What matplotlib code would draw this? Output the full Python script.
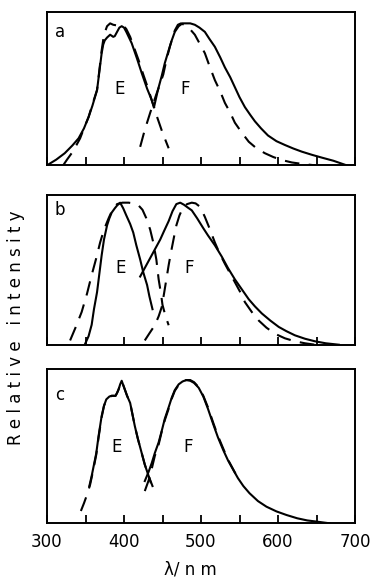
import matplotlib
matplotlib.use("Agg")
import matplotlib.pyplot as plt

# ---------------- data (wavelength nm, relative intensity) ----------------
# panel a
a_E_solid_x = [300, 312, 323, 333, 341, 348, 354, 359, 365, 368, 371, 373, 375, 378, 382, 386, 388, 391, 394, 397, 400, 403, 410, 417, 423, 430, 436, 439]
a_E_solid_y = [0.0, 0.04, 0.085, 0.14, 0.19, 0.26, 0.34, 0.42, 0.53, 0.66, 0.79, 0.85, 0.88, 0.90, 0.92, 0.905, 0.91, 0.94, 0.97, 0.98, 0.97, 0.94, 0.86, 0.75, 0.65, 0.54, 0.46, 0.41]
a_F_solid_x = [439, 444, 449, 453, 458, 462, 466, 471, 476, 481, 486, 492, 498, 505, 511, 518, 525, 531, 538, 544, 550, 557, 564, 570, 578, 587, 598, 609, 620, 631, 644, 657, 672, 689]
a_F_solid_y = [0.41, 0.53, 0.63, 0.72, 0.81, 0.88, 0.94, 0.98, 1.0, 1.0, 1.0, 0.99, 0.97, 0.94, 0.89, 0.835, 0.76, 0.69, 0.62, 0.55, 0.48, 0.41, 0.355, 0.31, 0.26, 0.21, 0.17, 0.143, 0.118, 0.096, 0.074, 0.054, 0.032, 0.0]
a_E_dash_x = [321, 326, 332, 337, 343, 348, 354, 359, 365, 368, 371, 374, 378, 382, 386, 391, 395, 399, 403, 408, 413, 419, 425, 432, 437, 443, 450, 458]
a_E_dash_y = [0.0, 0.04, 0.085, 0.13, 0.19, 0.26, 0.34, 0.43, 0.53, 0.67, 0.81, 0.92, 0.98, 1.0, 0.99, 0.985, 0.985, 0.985, 0.96, 0.905, 0.83, 0.74, 0.64, 0.53, 0.44, 0.34, 0.23, 0.12]
a_F_dash_x = [421, 427, 434, 442, 446, 451, 455, 460, 466, 470, 474, 478, 484, 492, 498, 505, 511, 518, 525, 531, 538, 544, 553, 562, 572, 583, 594, 605, 618, 631, 648]
a_F_dash_y = [0.13, 0.25, 0.37, 0.50, 0.56, 0.64, 0.74, 0.845, 0.95, 0.99, 1.0, 0.99, 0.97, 0.92, 0.86, 0.79, 0.70, 0.60, 0.52, 0.44, 0.37, 0.30, 0.23, 0.166, 0.12, 0.085, 0.058, 0.037, 0.02, 0.01, 0.0]

# panel b
b_E_solid_x = [349, 354, 358, 361, 365, 368, 371, 374, 378, 381, 384, 388, 391, 395, 399, 403, 408, 412, 416, 421, 425, 430, 433, 437]
b_E_solid_y = [0.0, 0.06, 0.14, 0.25, 0.37, 0.50, 0.63, 0.74, 0.84, 0.89, 0.93, 0.96, 0.98, 1.0, 0.96, 0.91, 0.85, 0.79, 0.70, 0.60, 0.51, 0.42, 0.34, 0.25]
b_E_dash_x = [330, 337, 345, 352, 358, 364, 369, 374, 380, 385, 391, 398, 406, 412, 419, 424, 429, 434, 438, 442, 445, 448, 450, 454, 458]
b_E_dash_y = [0.03, 0.12, 0.23, 0.36, 0.49, 0.61, 0.72, 0.81, 0.89, 0.95, 0.99, 1.0, 1.0, 0.995, 0.98, 0.95, 0.89, 0.81, 0.72, 0.60, 0.46, 0.36, 0.28, 0.20, 0.137]
b_F_solid_x = [421, 427, 434, 440, 447, 452, 458, 463, 468, 473, 478, 483, 488, 495, 503, 509, 518, 527, 535, 544, 553, 562, 570, 579, 590, 601, 611, 622, 635, 648, 662, 679]
b_F_solid_y = [0.48, 0.54, 0.61, 0.67, 0.74, 0.80, 0.87, 0.94, 0.99, 1.0, 0.985, 0.965, 0.946, 0.89, 0.82, 0.77, 0.70, 0.62, 0.54, 0.46, 0.39, 0.32, 0.27, 0.22, 0.17, 0.125, 0.095, 0.066, 0.042, 0.024, 0.01, 0.0]
b_F_dash_x = [427, 433, 440, 445, 449, 452, 455, 458, 461, 465, 468, 472, 477, 482, 488, 493, 499, 505, 511, 518, 524, 531, 538, 544, 551, 557, 566, 575, 585, 596, 609, 622, 635, 648]
b_F_dash_y = [0.03, 0.08, 0.137, 0.20, 0.265, 0.36, 0.46, 0.56, 0.65, 0.76, 0.84, 0.91, 0.97, 0.99, 1.0, 0.995, 0.97, 0.90, 0.82, 0.72, 0.645, 0.57, 0.50, 0.44, 0.37, 0.30, 0.23, 0.17, 0.12, 0.077, 0.045, 0.024, 0.01, 0.0]

# panel c
c_E_solid_x = [355, 358, 361, 364, 367, 371, 374, 377, 381, 384, 387, 389, 391, 393, 395, 397, 399, 401, 404, 408, 411, 414, 418, 423, 427, 432, 437]
c_E_solid_y = [0.26, 0.33, 0.41, 0.49, 0.61, 0.75, 0.82, 0.865, 0.885, 0.89, 0.89, 0.89, 0.91, 0.935, 0.97, 0.995, 0.965, 0.935, 0.89, 0.84, 0.76, 0.68, 0.59, 0.49, 0.41, 0.33, 0.26]
c_E_dash_x = [344, 348, 352, 356, 360, 364, 367, 371, 374, 377, 381, 384, 387, 389, 391, 393, 395, 397, 399, 401, 404, 408, 411, 414, 418, 423, 427, 432, 435]
c_E_dash_y = [0.086, 0.14, 0.20, 0.27, 0.37, 0.48, 0.60, 0.74, 0.82, 0.86, 0.88, 0.89, 0.89, 0.89, 0.91, 0.935, 0.97, 0.99, 0.965, 0.935, 0.89, 0.84, 0.76, 0.68, 0.59, 0.49, 0.41, 0.33, 0.28]
c_F_solid_x = [427, 432, 436, 440, 445, 449, 453, 458, 462, 466, 471, 476, 481, 486, 491, 497, 503, 509, 516, 522, 529, 535, 542, 548, 555, 563, 574, 585, 598, 611, 625, 638, 650, 667]
c_F_solid_y = [0.295, 0.36, 0.42, 0.49, 0.565, 0.645, 0.73, 0.81, 0.877, 0.93, 0.97, 0.99, 1.0, 0.995, 0.98, 0.946, 0.885, 0.80, 0.69, 0.60, 0.51, 0.44, 0.372, 0.315, 0.26, 0.21, 0.155, 0.116, 0.083, 0.058, 0.035, 0.02, 0.012, 0.0]
c_F_dash_x = [427, 432, 436, 440, 445, 449, 453, 458, 462, 466, 471, 476, 481, 486, 491, 497, 503, 509, 516, 522, 529, 535, 542, 548]
c_F_dash_y = [0.225, 0.30, 0.38, 0.47, 0.55, 0.64, 0.72, 0.80, 0.87, 0.925, 0.965, 0.99, 1.0, 1.0, 0.985, 0.95, 0.89, 0.81, 0.70, 0.61, 0.52, 0.445, 0.375, 0.315]

panel_letters = ["a", "b", "c"]
band_labels = ["E", "F"]
xticks = [300, 350, 400, 450, 500, 550, 600, 650, 700]
xtick_labels = ["300", "", "400", "", "500", "", "600", "", "700"]
ylabel_text = "R e l a t i v e   i n t e n s i t y"
xlabel_text = "λ/ n m"

# ---------------- figure ----------------
plt.rcParams['font.family'] = ['DejaVu Sans']
W, H = 377, 582
fig = plt.figure(figsize=(W / 100, H / 100), dpi=100)

def rect(top, bottom, left=47, right=355):
    return [left / W, 1 - bottom / H, (right - left) / W, (bottom - top) / H]

axes_rects = [rect(12, 165.3), rect(195, 344.7), rect(369.3, 523.3)]
ytops = [1.08, 1.054, 1.075]
letter_pos = [0.87, 0.90, 0.83]
label_pos = [((394.8, 0.54), (479, 0.54)), ((396, 0.54), (484, 0.54)), ((390.5, 0.53), (483.5, 0.53))]

series = [
    [(a_E_solid_x, a_E_solid_y, '-'), (a_F_solid_x, a_F_solid_y, '-'),
     (a_E_dash_x, a_E_dash_y, '--'), (a_F_dash_x, a_F_dash_y, '--')],
    [(b_E_solid_x, b_E_solid_y, '-'), (b_F_solid_x, b_F_solid_y, '-'),
     (b_E_dash_x, b_E_dash_y, '--'), (b_F_dash_x, b_F_dash_y, '--')],
    [(c_E_solid_x, c_E_solid_y, '-'), (c_F_solid_x, c_F_solid_y, '-'),
     (c_E_dash_x, c_E_dash_y, '--'), (c_F_dash_x, c_F_dash_y, '--')],
]

for i in range(3):
    ax = fig.add_axes(axes_rects[i])
    for xs, ys, ls in series[i]:
        if ls == '-':
            ax.plot(xs, ys, color='black', lw=1.5, solid_joinstyle='round')
        else:
            ax.plot(xs, ys, color='black', lw=1.5, dashes=(7, 4.5))
    ax.set_xlim(300, 700)
    ax.set_ylim(0, ytops[i])
    ax.set_yticks([])
    ax.set_xticks(xticks)
    ax.tick_params(axis='x', direction='in', length=6, width=1.3, pad=7,
                   labelsize=12)
    if i == 2:
        ax.set_xticklabels(xtick_labels)
    else:
        ax.set_xticklabels([])
    for sp in ax.spines.values():
        sp.set_linewidth(1.4)
    ax.text(0.042, letter_pos[i], panel_letters[i], transform=ax.transAxes,
            fontsize=12, ha='center', va='center')
    for lab, (lx, ly) in zip(band_labels, label_pos[i]):
        ax.text(lx, ly, lab, fontsize=12, ha='center', va='center')

fig.text(16 / W, 1 - 328 / H, ylabel_text, rotation=90, fontsize=12,
         ha='center', va='center')
fig.text(190 / W, 1 - 569 / H, xlabel_text, fontsize=12, ha='center', va='center')

fig.savefig("out.png", dpi=100)
